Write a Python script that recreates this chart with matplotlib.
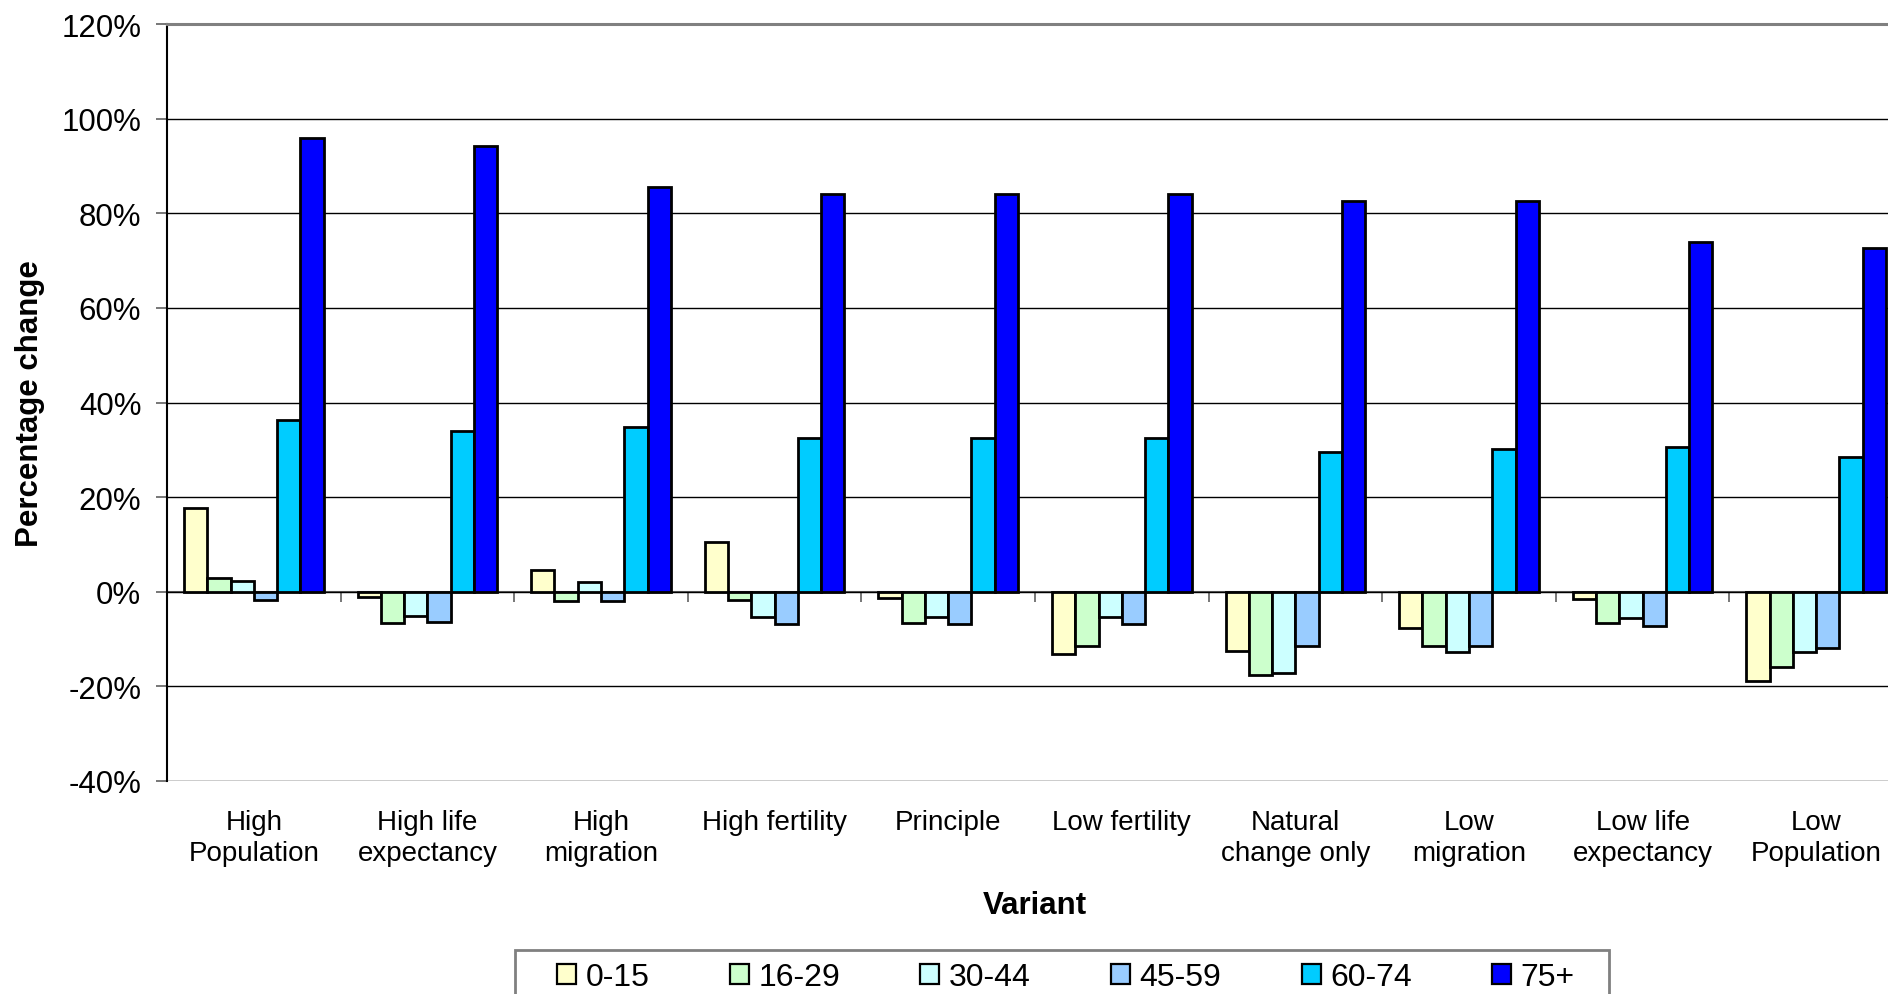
import matplotlib
matplotlib.use("Agg")
import matplotlib.pyplot as plt
import numpy as np
from matplotlib.patches import Rectangle, Patch
from matplotlib.ticker import FuncFormatter

plt.rcParams['font.family'] = ['Liberation Sans', 'DejaVu Sans']
plt.rcParams['axes.unicode_minus'] = False

variants = ["High\nPopulation", "High life\nexpectancy", "High\nmigration", "High fertility",
            "Principle", "Low fertility", "Natural\nchange only", "Low\nmigration",
            "Low life\nexpectancy", "Low\nPopulation"]
age_groups = ["0-15", "16-29", "30-44", "45-59", "60-74", "75+"]

age_0_15 = [17.6, -1.2, 4.6, 10.6, -1.4, -13.2, -12.6, -7.7, -1.5, -18.8]
age_16_29 = [2.9, -6.7, -1.9, -1.7, -6.7, -11.4, -17.7, -11.4, -6.7, -16.0]
age_30_44 = [2.2, -5.2, 2.0, -5.3, -5.3, -5.3, -17.2, -12.7, -5.5, -12.8]
age_45_59 = [-1.7, -6.3, -2.0, -6.8, -6.8, -6.8, -11.5, -11.4, -7.2, -11.8]
age_60_74 = [36.3, 34.0, 34.8, 32.5, 32.5, 32.5, 29.6, 30.1, 30.7, 28.5]
age_75_plus = [95.8, 94.3, 85.6, 84.1, 84.1, 84.1, 82.5, 82.5, 73.9, 72.6]

series = [age_0_15, age_16_29, age_30_44, age_45_59, age_60_74, age_75_plus]
colors = ["#FFFFCC", "#CCFFCC", "#CCFFFF", "#99CCFF", "#00CCFF", "#0000FF"]

W, H = 1888, 995
fig = plt.figure(figsize=(W / 100, H / 100), dpi=100)
ax_left, ax_right, ax_top, ax_bottom = 167, 1903, 25, 782
ax = fig.add_axes([ax_left / W, (H - ax_bottom) / H, (ax_right - ax_left) / W, (ax_bottom - ax_top) / H])

x = np.arange(len(variants))
bw = 0.134
for j, (vals, c, lab) in enumerate(zip(series, colors, age_groups)):
    ax.bar(x + (j - 2.5) * bw, vals, width=bw, color=c, edgecolor="black", linewidth=2.0,
           label=lab, zorder=3)

ax.set_xlim(-0.5, len(variants) - 0.5)
ax.set_ylim(-40, 120)
ax.set_yticks(np.arange(-40, 121, 20))
ax.yaxis.set_major_formatter(FuncFormatter(lambda v, p: f"{int(round(v))}%"))
ax.tick_params(axis='y', direction='out', length=8, width=1.2, pad=10.5, labelsize=22.5, color="#606060")
ax.yaxis.grid(True, color="black", linewidth=1.0, zorder=0)
ax.set_axisbelow(True)

ax.set_xticks(x)
ax.set_xticklabels(variants, fontsize=20, linespacing=1.28)
ax.tick_params(axis='x', length=0, pad=20)

for s in ["right", "bottom"]:
    ax.spines[s].set_visible(False)
ax.spines["top"].set_color("#808080")
ax.spines["top"].set_linewidth(2.2)
ax.spines["left"].set_color("black")
ax.spines["left"].set_linewidth(1.5)

# zero axis with category boundary ticks
sec = ax.secondary_xaxis(40 / 160)
sec.set_xticks(np.arange(-0.5, len(variants), 1.0))
sec.set_xticklabels([])
sec.tick_params(direction='out', length=7, width=1.2, color="#606060")
sec.spines["bottom"].set_color("#606060")
sec.spines["bottom"].set_linewidth(1.5)

ax.set_ylabel("Percentage change", fontsize=22.5, fontweight="bold")
ax.yaxis.set_label_coords((30 - ax_left) / (ax_right - ax_left), 0.5)
ax.yaxis.label.set_va("center")
ax.set_xlabel("Variant", fontsize=22.5, fontweight="bold")
ax.xaxis.set_label_coords((1035 - ax_left) / (ax_right - ax_left), (ax_bottom - 906) / (ax_bottom - ax_top))
ax.xaxis.label.set_va("center")

# legend frame
fig.patches.append(Rectangle((515 / W, -0.05), (1609 - 515) / W, (H - 951) / H + 0.05,
                             transform=fig.transFigure, fill=False, edgecolor="#808080",
                             linewidth=2.0))
handles = [Patch(facecolor=c, edgecolor="black", linewidth=1.6) for c in colors]
fig.legend(handles, age_groups, loc="center left", ncol=6, mode="expand",
           bbox_to_anchor=(557 / W, (H - 978) / H, (1575 - 557) / W, 0.0),
           frameon=False, fontsize=23, handlelength=0.6, handleheight=0.6,
           handletextpad=0.3, borderpad=0, borderaxespad=0)

fig.savefig("out.png", dpi=100)
